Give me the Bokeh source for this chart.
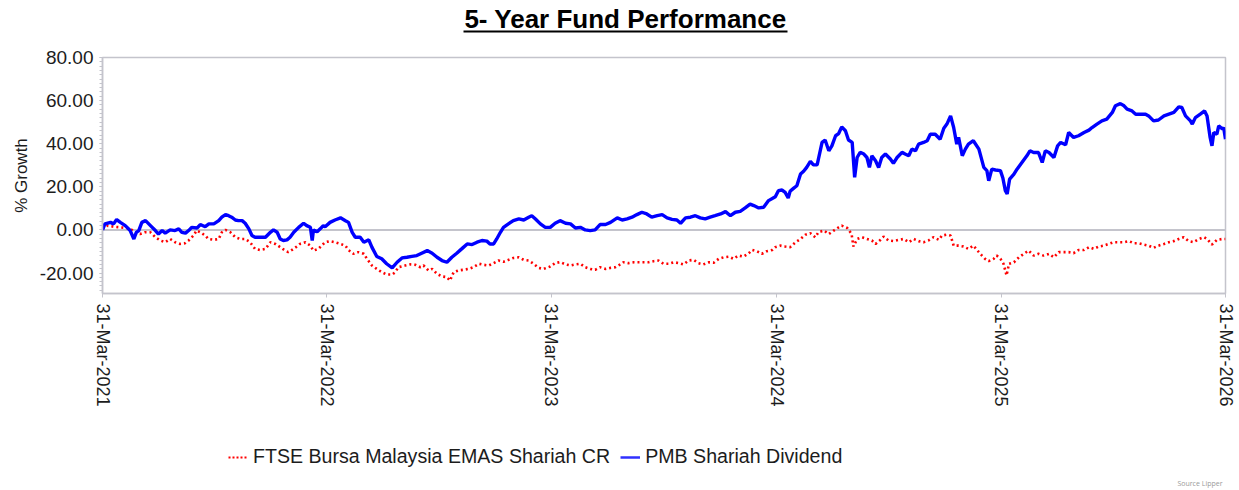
import pandas as pd
import numpy as np
from bokeh.plotting import figure
from bokeh.layouts import column
from bokeh.models import (Range1d, FixedTicker, DatetimeTickFormatter, NumeralTickFormatter,
                          Span, Label, BoxAnnotation, ColumnDataSource, Legend, LegendItem)
from bokeh.embed import file_html
from bokeh.resources import INLINE

# ---------------- data ----------------
START = "2021-03-31"
title_text = "5- Year Fund Performance"
fund_name = "PMB Shariah Dividend"
bench_name = "FTSE Bursa Malaysia EMAS Shariah CR"
y_label = "% Growth"
source_text = "Source Lipper"

# days after START, % growth
fund_days = [0, 4, 13, 18, 23, 29, 37, 45, 51, 55, 59, 64, 70, 78, 86, 91, 97, 102, 110, 118,
             124, 129, 135, 140, 145, 154, 159, 167, 173, 181, 189, 194, 200, 205, 210, 216, 221,
             227, 232, 238, 243, 248, 257, 265, 273, 278, 284, 289, 294, 300, 305, 311, 319, 327,
             332, 338, 341, 343, 349, 354, 359,
             362, 370, 378, 387, 395, 400, 406, 411, 419, 425, 433, 438, 446, 454, 462, 471, 479,
             487, 495, 503, 511, 519, 528, 536, 544, 552, 560, 568, 576, 584, 593, 601, 609, 617,
             625, 630, 636, 641, 647, 652, 660, 668, 677, 685, 693, 698, 704, 712, 720, 728,
             736, 744, 753, 761, 769, 777, 785, 793, 801, 809, 818, 826, 837, 845, 853, 861, 869,
             877, 885, 893, 902, 910, 918, 926, 934, 940, 948, 956, 964, 972, 980, 988, 996, 1005,
             1013, 1021, 1029, 1037, 1045, 1053, 1059, 1067, 1075, 1083,
             1094, 1099, 1105, 1110, 1115, 1118, 1124, 1129, 1135, 1140, 1145, 1151, 1156, 1162,
             1167, 1170, 1175, 1181, 1186, 1192, 1197, 1202, 1208, 1213, 1219, 1223, 1227, 1232,
             1238, 1243, 1247, 1251, 1257, 1262, 1267, 1273, 1281, 1286, 1292, 1300, 1305, 1311,
             1316, 1322, 1327, 1335, 1341, 1346, 1354, 1362, 1368, 1373, 1379, 1384, 1389, 1392,
             1398, 1403, 1408, 1416, 1425, 1433, 1438, 1441, 1446, 1452,
             1460, 1464, 1468, 1471, 1475, 1482, 1487, 1495, 1503, 1508, 1514, 1522, 1528, 1533,
             1539, 1547, 1553, 1558, 1566, 1571, 1579, 1587, 1596, 1604, 1609, 1617, 1625, 1633,
             1642, 1647, 1655, 1661, 1666, 1674, 1680, 1688, 1696, 1701, 1709, 1717, 1726, 1734,
             1742, 1750, 1755, 1761, 1769, 1772, 1777, 1785, 1792, 1796, 1801, 1804, 1807, 1812,
             1815, 1821, 1823, 1826]
fund_growth = [0.0, 2.8, 3.5, 2.8, 4.8, 3.5, 2.0, -0.3, -4.2, -1.1, -0.3, 3.5, 4.3, 2.0, -0.3, -1.9,
               -0.3, -1.5, 0.0, -0.3, 0.5, -1.1, -1.5, -0.3, 1.2, 0.9, 2.5, 1.5, 2.8, 2.8, 4.3, 5.9,
               7.1, 6.6, 5.9, 4.6, 4.3, 4.3, 3.1, 0.5, -2.6, -3.4, -3.4, -3.4, -1.1, 0.0, -1.1, -4.2,
               -4.9, -4.6, -3.4, -1.1, 1.2, 3.1, 2.0, 1.2, -4.9, 0.0, -0.8, 0.5, 2.0,
               1.5, 3.5, 4.6, 5.6, 4.3, 3.5, -1.1, -3.4, -3.4, -5.7, -4.6, -8.0, -12.3, -13.4,
               -15.7, -17.6, -15.0, -13.0, -12.7, -12.3, -11.9, -10.8, -9.6, -10.8, -12.7, -14.2,
               -15.0, -12.7, -10.8, -8.8, -6.5, -6.8, -5.7, -4.9, -5.2, -6.5, -6.5, -4.2, -1.1, 1.2,
               2.8, 4.3, 5.1, 4.6, 5.9, 6.6, 5.1, 2.8, 1.2, 1.2,
               3.1, 4.3, 3.1, 2.8, 0.9, 1.2, 0.0, -0.3, 0.0, 2.5, 2.5, 3.5, 5.6, 4.6, 5.1, 5.9, 7.1,
               8.2, 7.4, 5.9, 6.6, 7.1, 5.6, 4.9, 4.6, 3.1, 5.6, 5.9, 6.6, 5.6, 5.1, 5.9, 6.6, 7.4,
               8.5, 6.6, 8.2, 8.6, 10.2, 12.0, 11.3, 10.2, 10.5, 13.6,
               15.4, 18.2, 18.5, 17.4, 14.8, 17.9, 19.4, 20.5, 25.9, 27.2, 29.0, 31.8, 30.2, 30.2,
               36.7, 40.6, 41.7, 36.7, 39.0, 43.7, 44.7, 47.8, 46.0, 41.7, 40.6, 24.4, 33.6, 36.0,
               35.2, 33.6, 29.0, 34.4, 32.1, 29.0, 33.6, 35.2, 32.9, 30.9, 33.6, 36.0, 35.2, 34.4,
               37.5, 36.7, 39.8, 40.6, 41.4, 44.4, 44.4, 42.1, 47.2, 49.1, 52.9, 47.5, 39.8, 42.9,
               34.4, 37.5, 39.8, 41.4, 37.5, 29.0, 27.5, 22.8, 28.2, 27.8,
               27.5, 24.1, 18.2, 16.7, 23.6, 25.9, 28.2, 31.3, 34.4, 36.7, 35.9, 35.9, 31.3, 36.7,
               35.9, 33.6, 39.0, 40.6, 39.5, 45.2, 42.9, 43.7, 45.2, 46.3, 47.5, 49.1, 50.6, 51.4,
               54.5, 57.6, 58.6, 57.6, 56.0, 55.2, 53.7, 53.7, 53.7, 52.9, 50.6, 51.0, 52.9, 53.7,
               54.5, 57.1, 56.8, 52.9, 50.6, 49.1, 52.1, 53.7, 55.2, 52.9, 42.9, 39.0, 45.2, 44.4,
               48.3, 46.8, 47.5, 42.1]

bench_days = [0, 7, 18, 29, 40, 48, 53, 61, 69, 78, 86, 94, 102, 110, 118, 126, 134, 140, 148, 153,
              159, 167, 172, 181, 189, 194, 200, 208, 216, 224, 232, 240, 248, 256, 265, 273, 281,
              289, 297, 302, 308, 316, 321, 330, 338, 343, 351, 359,
              362, 370, 378, 387, 395, 400, 408, 416, 425, 430, 438, 446, 454, 462, 471, 476, 481,
              492, 500, 509, 517, 522, 530, 536, 544, 552, 560, 565, 571, 579, 587, 595, 603, 612,
              620, 628, 636, 644, 652, 660, 668, 677, 685, 693, 701, 709, 717, 725,
              728, 736, 744, 753, 761, 769, 777, 785, 793, 801, 809, 818, 826, 834, 842, 847, 855,
              864, 872, 880, 888, 896, 904, 912, 921, 929, 937, 945, 953, 961, 969, 977, 986, 994,
              1002, 1010, 1018, 1026, 1034, 1042, 1051, 1056, 1064, 1072, 1080, 1089,
              1094, 1102, 1110, 1118, 1127, 1135, 1143, 1151, 1159, 1164, 1173, 1181, 1189, 1197,
              1202, 1211, 1218, 1221, 1227, 1235, 1243, 1251, 1257, 1265, 1270, 1278, 1286, 1295,
              1303, 1311, 1319, 1327, 1335, 1343, 1351, 1360, 1365, 1373, 1379, 1384, 1392, 1400,
              1408, 1416, 1425, 1430, 1435, 1441, 1449, 1454,
              1460, 1465, 1470, 1474, 1482, 1490, 1498, 1506, 1514, 1522, 1530, 1539, 1547, 1555,
              1563, 1571, 1579, 1587, 1596, 1604, 1612, 1620, 1628, 1636, 1644, 1652, 1661, 1669,
              1677, 1685, 1693, 1701, 1709, 1717, 1726, 1734, 1742, 1750, 1758, 1766, 1774, 1783,
              1791, 1796, 1804, 1812, 1821, 1826]
bench_growth = [0.5, 2.0, 1.5, 1.2, 0.9, 0.0, -1.1, -1.9, -1.1, -1.1, -3.4, -4.9, -5.7, -4.2, -5.7,
                -6.5, -6.2, -4.9, -2.6, -0.3, -1.1, -2.6, -4.2, -4.6, -4.2, -1.1, 0.0, -1.1, -3.4,
                -4.2, -4.2, -5.7, -8.8, -9.3, -8.8, -5.7, -6.5, -8.0, -9.6, -10.3, -9.3, -7.7, -6.5,
                -5.7, -7.3, -9.6, -8.8, -6.5,
                -5.7, -5.2, -5.7, -6.5, -7.3, -9.3, -11.1, -10.3, -11.1, -13.4, -16.5, -18.1, -19.6,
                -20.7, -20.7, -19.6, -17.3, -16.5, -16.0, -16.2, -17.3, -16.5, -18.8, -18.1, -20.4,
                -21.6, -21.9, -23.5, -19.6, -18.8, -18.5, -18.1, -17.3, -15.7, -16.2, -16.5, -15.4,
                -14.2, -14.8, -13.9, -13.0, -12.7, -13.9, -14.2, -15.7, -17.6, -18.1, -17.3,
                -17.0, -15.4, -14.9, -16.0, -16.5, -16.0, -15.7, -17.3, -18.1, -18.5, -17.3, -18.1,
                -17.6, -17.3, -16.0, -15.0, -15.4, -15.0, -15.0, -15.0, -15.0, -14.5, -14.2, -15.7,
                -15.7, -15.0, -15.4, -16.0, -14.2, -13.9, -15.4, -16.0, -15.0, -15.2, -13.4, -12.7,
                -12.4, -13.4, -11.9, -12.4, -10.8, -9.3, -9.9, -11.1, -9.9, -9.3,
                -8.0, -7.3, -7.7, -8.0, -5.7, -4.2, -2.2, -1.5, -3.4, -1.1, -0.3, -1.9, -0.3, 1.2,
                2.0, 0.9, -1.9, -7.7, -4.2, -3.4, -4.2, -4.9, -6.5, -4.6, -3.1, -4.9, -5.2, -4.6,
                -4.2, -5.7, -4.2, -5.2, -5.7, -4.9, -3.4, -4.6, -2.6, -2.2, -2.6, -7.3, -7.3, -7.7,
                -8.8, -7.3, -10.3, -11.9, -13.4, -14.5, -13.4, -11.9,
                -13.4, -15.7, -21.1, -15.7, -15.0, -12.7, -11.1, -9.6, -11.9, -11.1, -11.9, -11.1,
                -12.7, -10.3, -10.3, -10.3, -10.8, -9.3, -9.3, -8.0, -8.8, -7.7, -7.3, -6.5, -5.7,
                -5.7, -5.7, -5.2, -6.2, -6.2, -6.8, -7.3, -8.3, -7.3, -6.5, -5.7, -5.2, -4.2, -3.4,
                -5.2, -5.7, -4.2, -3.4, -4.2, -6.8, -4.6, -4.2, -4.2]

x_tick_dates = ["2021-03-31", "2022-03-31", "2023-03-31", "2024-03-31", "2025-03-31", "2026-03-31"]
y_ticks = [-20, 0, 20, 40, 60, 80]

# ---------------- styles ----------------
FONT = "Liberation Sans"
GRAY = "#C4C4CC"
TXT = "#1c1c1c"
W = 1239
FRAME_L = 102   # the column aligns every strip's frame with the chart's frame
BENCH_STYLE = dict(line_color="#FF0000", line_width=2.6, line_dash="2 3")
FUND_STYLE = dict(line_color="#0000FF", line_width=3.4)


def bare_figure(height):
    f = figure(width=W, height=height, output_backend="svg", toolbar_location=None,
               x_axis_type=None, y_axis_type=None, x_range=Range1d(0, 1), y_range=Range1d(0, 1),
               min_border=0)
    f.outline_line_color = None
    f.xgrid.visible = False
    f.ygrid.visible = False
    f.background_fill_color = "white"
    f.border_fill_color = "white"
    return f


# ---------------- title strip ----------------
TITLE_H = 45
title_fig = bare_figure(TITLE_H)
title_fig.add_layout(Label(x=625 - FRAME_L, y=TITLE_H - 18, x_units="screen", y_units="screen",
                           text=title_text, text_align="center", text_baseline="middle",
                           text_font=FONT, text_font_style="bold", text_font_size="26px",
                           text_color="black"))
title_fig.add_layout(BoxAnnotation(left=463 - FRAME_L, right=787 - FRAME_L,
                                   bottom=TITLE_H - 32, top=TITLE_H - 30,
                                   left_units="screen", right_units="screen",
                                   bottom_units="screen", top_units="screen",
                                   fill_color="black", fill_alpha=1, line_color=None,
                                   line_alpha=0))

# ---------------- main chart ----------------
start = pd.Timestamp(START)
fund_src = ColumnDataSource(dict(x=start + pd.to_timedelta(fund_days, unit="D"), y=fund_growth))
bench_src = ColumnDataSource(dict(x=start + pd.to_timedelta(bench_days, unit="D"), y=bench_growth))

MAIN_H = 375
p = figure(width=W, height=MAIN_H, x_axis_type="datetime", output_backend="svg",
           toolbar_location=None,
           x_range=Range1d(pd.Timestamp(x_tick_dates[0]).to_pydatetime(),
                           pd.Timestamp(x_tick_dates[-1]).to_pydatetime()),
           y_range=Range1d(-29.5, 80),
           min_border_left=FRAME_L, min_border_right=14, min_border_top=57 - TITLE_H,
           min_border_bottom=MAIN_H - (293 - TITLE_H))
p.background_fill_color = "white"
p.border_fill_color = "white"
p.outline_line_color = GRAY
p.outline_line_width = 1.5
p.xgrid.visible = False
p.ygrid.visible = False

p.add_layout(Span(location=0, dimension="width", line_color=GRAY, line_width=2, level="underlay"))

p.line("x", "y", source=bench_src, **BENCH_STYLE)
p.line("x", "y", source=fund_src, **FUND_STYLE)

yax = p.yaxis[0]
yax.ticker = FixedTicker(ticks=y_ticks, minor_ticks=list(np.arange(-28, 81, 2)))
yax.formatter = NumeralTickFormatter(format="0.00")
yax.axis_label = y_label
yax.axis_label_text_font = FONT
yax.axis_label_text_font_style = "normal"
yax.axis_label_text_font_size = "17px"
yax.axis_label_text_color = TXT
yax.axis_label_standoff = 6
yax.major_label_text_font = FONT
yax.major_label_text_font_size = "19px"
yax.major_label_text_color = TXT
yax.major_label_standoff = 6
yax.axis_line_color = GRAY
yax.axis_line_width = 1.5
yax.major_tick_line_color = GRAY
yax.major_tick_in = 0
yax.major_tick_out = 3
yax.minor_tick_line_color = GRAY
yax.minor_tick_in = 0
yax.minor_tick_out = 3

tick_ms = [pd.Timestamp(d).timestamp() * 1000 for d in x_tick_dates]
xax = p.xaxis[0]
xax.ticker = FixedTicker(ticks=tick_ms)
fmt = "%d-%b-%Y"
xax.formatter = DatetimeTickFormatter(milliseconds=fmt, seconds=fmt, minsec=fmt, minutes=fmt,
                                      hourmin=fmt, hours=fmt, days=fmt, months=fmt, years=fmt)
xax.major_label_orientation = "vertical"
xax.major_label_text_font = FONT
xax.major_label_text_font_size = "18px"
xax.major_label_text_color = TXT
xax.major_label_standoff = 6
xax.axis_line_color = GRAY
xax.axis_line_width = 1.5
xax.major_tick_line_color = GRAY
xax.major_tick_in = 0
xax.major_tick_out = 4
xax.minor_tick_line_color = None

# ---------------- legend strip ----------------
LEG_H = 490 - TITLE_H - MAIN_H
leg_fig = bare_figure(LEG_H)
# legend proxies (styled like the chart lines, nothing drawn in the strip itself)
r_bench = leg_fig.line(x=[np.nan], y=[np.nan], line_color="#FF0000", line_width=2,
                       line_dash="2 2")
r_fund = leg_fig.line(x=[np.nan], y=[np.nan], line_color="#3030FF", line_width=2.5)
legend = Legend(items=[LegendItem(label=bench_name, renderers=[r_bench]),
                       LegendItem(label=fund_name, renderers=[r_fund])],
                location=(228 - FRAME_L, LEG_H - (457 - (TITLE_H + MAIN_H)) - 11),
                orientation="horizontal", background_fill_alpha=0, border_line_alpha=0,
                padding=0, margin=0, spacing=10, glyph_width=20, glyph_height=22,
                label_standoff=5, label_height=22, label_text_font=FONT,
                label_text_font_size="19.6px", label_text_color=TXT,
                label_text_baseline="middle")
leg_fig.add_layout(legend)
leg_fig.add_layout(Label(x=1222 - FRAME_L, y=3, x_units="screen", y_units="screen",
                         text=source_text, text_align="right", text_baseline="bottom",
                         text_font="Open Sans", text_font_size="7px", text_color="#9a9a9a"))

layout = column(title_fig, p, leg_fig, spacing=0)
open("out.html", "w").write(file_html(layout, INLINE))
